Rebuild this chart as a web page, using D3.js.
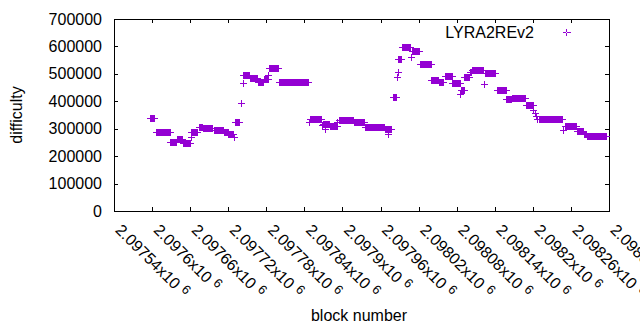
<!DOCTYPE html>
<html>
<head>
<meta charset="utf-8">
<script src="https://cdn.jsdelivr.net/npm/d3@7"></script>
<style>
body { margin: 0; background: #fff; }
text { font-family: "Liberation Sans", Arial, sans-serif; font-size: 16px; fill: #000; }
</style>
</head>
<body>
<div id="chart"></div>
<script>
// runs of consecutive blocks that share one difficulty
var runStart = [2097537, 2097546, 2097569, 2097579, 2097589, 2097601, 2097602, 2097614, 2097621, 2097637,
	2097653, 2097660, 2097669, 2097670, 2097680, 2097683, 2097684, 2097695, 2097707, 2097716,
	2097723, 2097725, 2097740, 2097788, 2097789, 2097807, 2097809, 2097812, 2097813, 2097821,
	2097832, 2097835, 2097858, 2097876, 2097907, 2097911, 2097912, 2097919, 2097926, 2097927,
	2097928, 2097934, 2097948, 2097950, 2097962, 2097980, 2097992, 2098001, 2098013, 2098026,
	2098027, 2098032, 2098041, 2098044, 2098063, 2098065, 2098083, 2098098, 2098107, 2098129,
	2098141, 2098143, 2098145, 2098147, 2098150, 2098188, 2098190, 2098209, 2098221, 2098226];
var runEnd = [2097543, 2097568, 2097578, 2097587, 2097599, 2097601, 2097611, 2097619, 2097635, 2097651,
	2097659, 2097668, 2097669, 2097677, 2097680, 2097683, 2097693, 2097705, 2097714, 2097722,
	2097723, 2097739, 2097786, 2097788, 2097806, 2097807, 2097811, 2097812, 2097819, 2097831,
	2097832, 2097857, 2097874, 2097906, 2097910, 2097911, 2097917, 2097925, 2097926, 2097927,
	2097932, 2097947, 2097948, 2097961, 2097979, 2097990, 2097999, 2098012, 2098025, 2098026,
	2098031, 2098040, 2098043, 2098062, 2098063, 2098081, 2098097, 2098105, 2098128, 2098140,
	2098141, 2098143, 2098145, 2098147, 2098186, 2098188, 2098208, 2098219, 2098224, 2098256];
var runDiff = [338000, 289000, 252600, 260700, 247900, 268700, 289800, 306000, 300800, 297100,
	289800, 281400, 271000, 326300, 392600, 465500, 494700, 486700, 468800, 481200,
	495800, 520200, 468800, 325600, 334300, 313500, 316400, 299000, 316400, 308800,
	324000, 330000, 325600, 308000, 298900, 280700, 298900, 416700, 489600, 507800,
	553000, 599000, 562500, 582200, 534800, 476400, 471400, 491000, 465500, 428000,
	440400, 489600, 505600, 512500, 461900, 502000, 439700, 406800, 410800, 385300,
	368000, 357000, 346000, 337000, 334700, 295000, 311000, 290500, 281400, 272300];

var xTicks = [2097540, 2097600, 2097660, 2097720, 2097780, 2097840, 2097900,
	2097960, 2098020, 2098080, 2098140, 2098200, 2098260, 2098320];
var xTickLabels = ["2.09754", "2.0976", "2.09766", "2.09772", "2.09778", "2.09784", "2.0979",
	"2.09796", "2.09802", "2.09808", "2.09814", "2.0982", "2.09826", "2.09832"];
var yTicks = [0, 100000, 200000, 300000, 400000, 500000, 600000, 700000];
var seriesName = "LYRA2REv2";

var width = 640,
	height = 330;
var plotL = 114, plotR = 609, plotT = 19, plotB = 211;
var violet = "#9400d3";

var svg = d3.select("#chart").append("svg")
	.attr("width", width)
	.attr("height", height);

var x = d3.scaleLinear()
	.domain([2097480, 2098260])
	.range([plotL, plotR]);

var y = d3.scaleLinear()
	.domain([0, 700000])
	.range([plotB, plotT]);

// frame
svg.append("rect")
	.attr("x", plotL + 0.5)
	.attr("y", plotT + 0.5)
	.attr("width", plotR - plotL)
	.attr("height", plotB - plotT)
	.attr("fill", "none")
	.attr("stroke", "#000")
	.attr("stroke-width", 1);

// ticks, mirrored on all four sides
var inX = xTicks.filter(function(t){ return t <= 2098260; });
function xt(y0, y1) {
	svg.append("g").selectAll("line")
		.data(inX)
		.enter()
		.append("line")
		.attr("x1", function(d){ return Math.round(x(d)) + 0.5; })
		.attr("x2", function(d){ return Math.round(x(d)) + 0.5; })
		.attr("y1", y0)
		.attr("y2", y1)
		.attr("stroke", "#000");
}
function yt(x0, x1) {
	svg.append("g").selectAll("line")
		.data(yTicks)
		.enter()
		.append("line")
		.attr("x1", x0)
		.attr("x2", x1)
		.attr("y1", function(d){ return Math.round(y(d)) + 0.5; })
		.attr("y2", function(d){ return Math.round(y(d)) + 0.5; })
		.attr("stroke", "#000");
}
xt(plotB, plotB - 4);
xt(plotT, plotT + 4);
yt(plotL, plotL + 4);
yt(plotR, plotR - 4);

// y tick labels
svg.append("g").selectAll("text")
	.data(yTicks)
	.enter()
	.append("text")
	.attr("x", plotL - 12)
	.attr("y", function(d){ return y(d); })
	.attr("dy", "0.35em")
	.attr("text-anchor", "end")
	.text(function(d){ return d; });

// x tick labels, rotated, with the x10^6 exponent
var xl = svg.append("g").selectAll("text")
	.data(xTicks)
	.enter()
	.append("text")
	.attr("transform", function(d){
		return "translate(" + (x(d) - 37.5) + "," + 231 + ") rotate(45)";
	});
xl.append("tspan").text(function(d, i){ return xTickLabels[i] + "x10"; });
xl.append("tspan")
	.attr("dx", 5)
	.attr("dy", -5)
	.style("font-size", "12.8px")
	.text("6");

// axis titles
svg.append("text")
	.attr("x", 359)
	.attr("y", 320.5)
	.attr("text-anchor", "middle")
	.text("block number");
svg.append("text")
	.attr("transform", "translate(22," + ((plotT + plotB) / 2) + ") rotate(-90)")
	.attr("text-anchor", "middle")
	.text("difficulty");

// one "+" mark per run: stacked vertical arms plus a shared horizontal arm
function runPath(s, e, d) {
	var x0 = Math.round(x(s)), x1 = Math.round(x(e)), yy = Math.round(y(d));
	return "M" + x0 + "," + (yy - 3) + "H" + (x1 + 1) + "V" + (yy + 4) + "H" + x0 + "Z" +
		"M" + (x0 - 3) + "," + yy + "H" + (x1 + 4) + "V" + (yy + 1) + "H" + (x0 - 3) + "Z";
}

svg.append("g").selectAll("path")
	.data(runStart)
	.enter()
	.append("path")
	.attr("d", function(d, i){ return runPath(runStart[i], runEnd[i], runDiff[i]); })
	.attr("fill", violet)
	.attr("shape-rendering", "crispEdges");

// legend
svg.append("text")
	.attr("x", 534)
	.attr("y", 37.5)
	.attr("text-anchor", "end")
	.text(seriesName);
svg.append("path")
	.attr("d", "M566,29V36H567V29Z M563,32H571V33H563Z")
	.attr("fill", violet)
	.attr("shape-rendering", "crispEdges");
</script>
</body>
</html>
